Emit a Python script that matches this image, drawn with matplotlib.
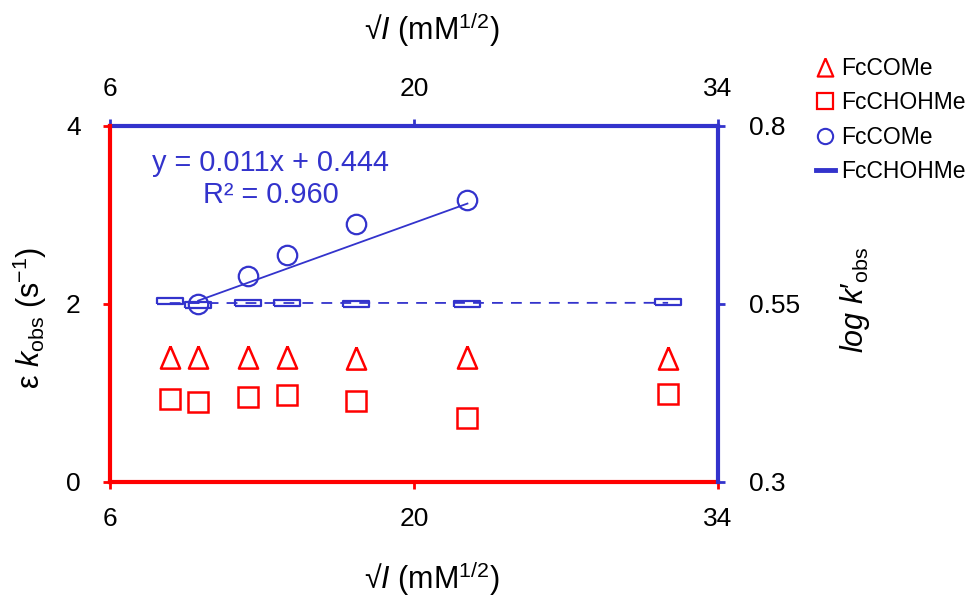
import numpy as np
import matplotlib
matplotlib.use('Agg')
import matplotlib.pyplot as plt
from matplotlib.lines import Line2D

plt.rcParams['font.family'] = ['Liberation Sans', 'DejaVu Sans']
plt.rcParams['mathtext.fontset'] = 'custom'
plt.rcParams['mathtext.rm'] = 'Liberation Sans'
plt.rcParams['mathtext.it'] = 'Liberation Sans:italic'

red = '#FF0000'
blue = '#3333CC'

# sqrt(I) in mM^1/2
sqrt_i = [8.75, 10.06, 12.36, 14.16, 17.35, 22.46, 31.7]
# eps k_obs (left axis)
kobs_come = [1.40, 1.40, 1.40, 1.40, 1.395, 1.40, 1.395]
kobs_chohme = [0.93, 0.90, 0.955, 0.98, 0.91, 0.72, 0.99]
# log k'obs (right axis)
sqrt_i_log = [10.06, 12.36, 14.16, 17.35, 22.46]
logk_come = [0.550, 0.589, 0.619, 0.662, 0.696]
logk_chohme = [0.554, 0.549, 0.552, 0.552, 0.550, 0.550, 0.553]
# linear fit shown on the chart
fit_slope = 0.011
fit_icpt = 0.444
fit_r2 = 0.960

xticks = [6, 20, 34]
yticks_left = [0, 2, 4]
yticks_right = [0.3, 0.55, 0.8]

tri = [(0, 0.58), (-0.5, -0.58), (0.5, -0.58), (0, 0.58)]
rect = [(-2.2, -0.5), (2.2, -0.5), (2.2, 0.5), (-2.2, 0.5), (-2.2, -0.5)]

fig = plt.figure(figsize=(9.76, 5.96), dpi=100)
ax = fig.add_axes([0.1127, 0.1913, 0.623, 0.5973])
ax2 = ax.twinx()

# red series on left axis
ax.plot(sqrt_i, kobs_come, ls='none', marker=tri, ms=16, mfc='none', mec=red, mew=1.8)
ax.plot(sqrt_i, kobs_chohme, ls='none', marker='s', ms=14, mfc='none', mec=red, mew=1.8)

# blue series on right axis
xs = np.array([min(sqrt_i_log), max(sqrt_i_log)])
ax2.plot(xs, fit_slope * xs + fit_icpt, color=blue, lw=1.3)
ax2.plot(sqrt_i_log, logk_come, ls='none', marker='o', ms=14, mfc='none', mec=blue, mew=1.6)
p = np.polyfit(sqrt_i, logk_chohme, 1)
xs2 = np.array([min(sqrt_i), max(sqrt_i)])
ax2.plot(xs2, np.polyval(p, xs2), color=blue, lw=1.3, ls=(0, (6, 4.5)))
ax2.plot(sqrt_i, logk_chohme, ls='none', marker=rect, ms=19, mfc='none', mec=blue, mew=1.6)

ax.text(0.264, 0.851, f'y = {fit_slope:.3f}x + {fit_icpt:.3f}\nR² = {fit_r2:.3f}',
        transform=ax.transAxes, ha='center', va='center', color=blue,
        fontsize=20.8, linespacing=1.15)

ax.set_xlim(6, 34)
ax.set_ylim(0, 4)
ax2.set_ylim(0.3, 0.8)
ax.set_xticks(xticks)
ax.set_yticks(yticks_left)
ax2.set_yticks(yticks_right)
ax2.set_yticklabels(['0.3', '0.55', '0.8'])

top = ax.secondary_xaxis('top')
top.set_xticks(xticks)

for s in ['top', 'right']:
    ax.spines[s].set_visible(False)
for s in ['top', 'left', 'bottom']:
    ax2.spines[s].set_visible(False)
ax.spines['left'].set_color(red)
ax.spines['bottom'].set_color(red)
ax.spines['left'].set_linewidth(3)
ax.spines['bottom'].set_linewidth(3)
ax2.spines['right'].set_color(blue)
ax2.spines['right'].set_linewidth(3)
top.spines['top'].set_color(blue)
top.spines['top'].set_linewidth(3)

ax.tick_params(axis='both', colors=red, labelcolor='black', direction='out',
               length=5, width=2, labelsize=19, pad=13)
ax.tick_params(axis='y', pad=16)
ax2.tick_params(axis='y', colors=blue, labelcolor='black', direction='out',
                length=5, width=2, labelsize=19, pad=17)
top.tick_params(axis='x', colors=blue, labelcolor='black', direction='out',
                length=5, width=2, labelsize=19, pad=13)

xlab = '√$\\mathit{I}$ (mM$^{1/2}$)'
ax.set_xlabel(xlab, fontsize=22)
ax.xaxis.set_label_coords(0.53, -0.27)
ax.xaxis.label.set_va('center')
top.set_xlabel(xlab, fontsize=22)
top.xaxis.set_label_coords(0.53, 1.27, transform=ax.transAxes)
top.xaxis.label.set_va('center')

ax.set_ylabel('ε $\\mathit{k}_{\\mathrm{obs}}$ (s$^{\u2212 1}$)', fontsize=22)
ax.yaxis.set_label_coords(-0.132, 0.46)
ax.yaxis.label.set_va('center')
ax2.set_ylabel('$\\mathit{log\\ k\u2032}_{\\mathrm{obs}}$', fontsize=22, rotation=90)
ax2.yaxis.set_label_coords(1.225, 0.51)
ax2.yaxis.label.set_va('center')

handles = [
    Line2D([], [], ls='none', marker=tri, ms=13, mfc='none', mec=red, mew=1.6),
    Line2D([], [], ls='none', marker='s', ms=11, mfc='none', mec=red, mew=1.6),
    Line2D([], [], ls='none', marker='o', ms=11, mfc='none', mec=blue, mew=1.5),
    Line2D([], [], color=blue, lw=3.5),
]
labels = ['FcCOMe', 'FcCHOHMe', 'FcCOMe', 'FcCHOHMe']
fig.legend(handles, labels, loc='upper left', bbox_to_anchor=(0.827, 0.92),
           frameon=False, fontsize=16.5, handlelength=0.8, handletextpad=0.3,
           labelspacing=0.5, borderaxespad=0)

fig.savefig('out.png', dpi=100)
